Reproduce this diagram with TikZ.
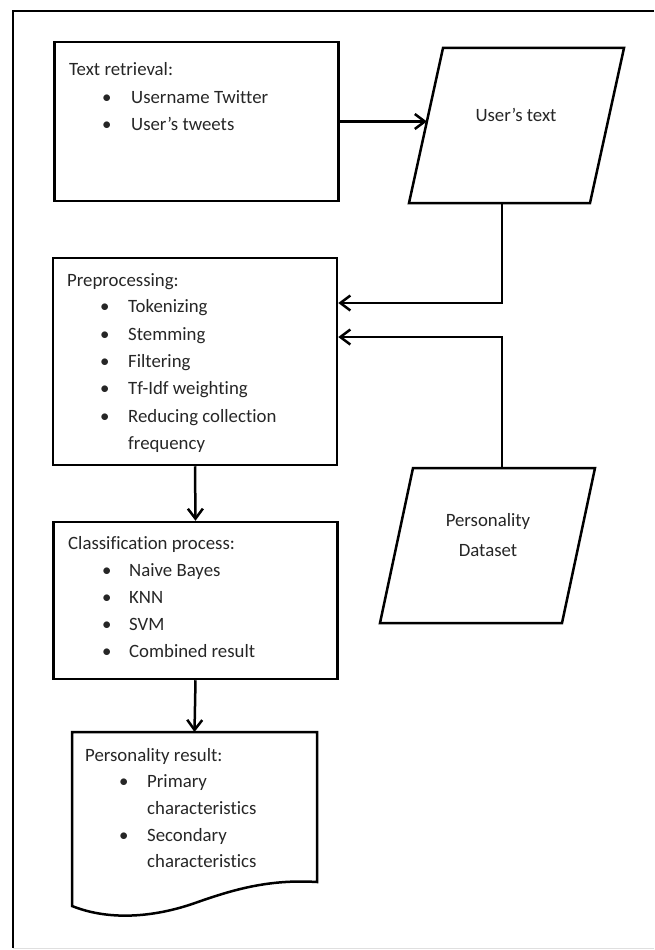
\documentclass[tikz,border=0pt]{standalone}
\usepackage{fontspec}
\setmainfont{Carlito}[Ligatures={TeX,NoCommon}]
\usetikzlibrary{arrows.meta,calc}

\tikzset{
    frame/.style={line width=2pt},
    box/.style={draw, line width=2.5pt, minimum width=284pt},
    slanted/.style={draw, line width=2.5pt},
    txt/.style={anchor=west, inner sep=0pt, text height=12pt, text depth=4pt,
        text=black!85, font=\fontsize{18.8}{27}\selectfont},
    partxt/.style={inner sep=0pt, align=center, text=black!85,
        font=\fontsize{18.8}{30}\selectfont},
    doc/.style={draw, line width=2.5pt},
    flow/.style={line width=2.5pt, -{Straight Barb[length=10pt,width=15pt]}},
}

\begin{document}
\begin{tikzpicture}[x=1pt, y=-1pt]
    \useasboundingbox (0,0) rectangle (654,950);

    % frame
    \draw[frame] (654,11) -- (13,11) -- (13,948);
    \draw[gray!25, line width=1pt] (13,948) -- (654,948);

    % process boxes
    \node[box, minimum height=159pt] (retrieval) at (196.5,121.5) {};
    \node[box, minimum height=207pt] (prep) at (195,361.5) {};
    \node[box, minimum height=157pt] (class) at (195.5,600.5) {};

    % result document
    \draw[doc] (72,732) -- (317,732) -- (317,882)
        .. controls (268,879) and (232,890) .. (195,903)
        .. controls (158,916) and (112,922) .. (72,906) -- cycle;
    \coordinate (result) at (194.5,732);

    % data
    \draw[slanted] (443,48) -- (624,48) -- (590,203) -- (409,203) -- cycle;
    \node[partxt] (usertext) at (516,115) {User's text};
    \coordinate (usertext-left) at (426.9,121.5);
    \coordinate (usertext-bottom) at (502,203);

    \draw[slanted] (413,468) -- (595,468) -- (562,623) -- (380,623) -- cycle;
    \node[partxt] (dataset) at (488,535) {Personality\\Dataset};
    \coordinate (dataset-top) at (502,468);

    % texts
    \node[txt] (retrieval-head) at (69,71) {Text retrieval:};
    \foreach \y/\t [count=\i] in {99/Username Twitter, 126/User's tweets}
    {
        \node[txt] (retrieval-b\i) at (102,\y) {•};
        \node[txt] (retrieval-t\i) at (131,\y) {\t};
    }

    \node[txt] (prep-head) at (67,282) {Preprocessing:};
    \foreach \y/\t [count=\i] in {308/Tokenizing, 336/Stemming, 363/Filtering,
        390/Tf-Idf weighting, 418/Reducing collection}
    {
        \node[txt] (prep-b\i) at (100,\y) {•};
        \node[txt] (prep-t\i) at (128,\y) {\t};
    }
    \node[txt] (prep-t6) at (128,445) {frequency};

    \node[txt] (class-head) at (68,545) {Classification process:};
    \foreach \y/\t [count=\i] in {572/Naive Bayes, 599/KNN, 626/SVM, 653/Combined result}
    {
        \node[txt] (class-b\i) at (102,\y) {•};
        \node[txt] (class-t\i) at (129,\y) {\t};
    }

    \node[txt] (result-head) at (85,757) {Personality result:};
    \node[txt] (result-b1) at (119,783) {•};
    \node[txt] (result-b2) at (119,837) {•};
    \foreach \y/\t [count=\i] in {783/Primary, 810/characteristics,
        837/Secondary, 863/characteristics}
        \node[txt] (result-t\i) at (147,\y) {\t};

    % connectors
    \coordinate (join1) at (502,303);
    \coordinate (join2) at (502,337);
    \draw[flow] (retrieval.east) -- (usertext-left);
    \draw[flow] (usertext-bottom) -- (join1) -- (join1 -| prep.east);
    \draw[flow] (dataset-top) -- (join2) -- (join2 -| prep.east);
    \draw[flow] (prep.south) -- (class.north);
    \draw[flow] (class.south) -- (result);

\end{tikzpicture}
\end{document}
